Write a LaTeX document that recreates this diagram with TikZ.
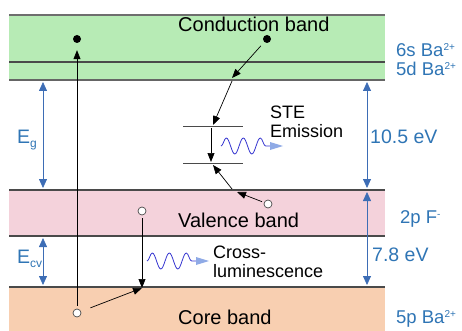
\documentclass[tikz,border=0pt]{standalone}
\usepackage{fontspec}
\setmainfont{Liberation Sans}
\usetikzlibrary{arrows.meta,decorations.pathmorphing,positioning}
\definecolor{bfGreen}{HTML}{B7EBB5}
\definecolor{bfPink}{HTML}{F4D2DB}
\definecolor{bfPeach}{HTML}{F8CFB1}
\definecolor{bfEdge}{HTML}{4A4A4A}
\definecolor{bfBlue}{HTML}{3D6DB5}
\definecolor{bfText}{HTML}{2F75B5}
\definecolor{bfWave}{HTML}{3535D0}
\definecolor{bfTip}{HTML}{8FAAE6}
\newcommand{\bfsup}[1]{\raisebox{6pt}{\fontsize{10}{10}\selectfont #1}}
\newcommand{\bfsub}[1]{\raisebox{-4pt}{\fontsize{12}{12}\selectfont #1}}
\tikzset{
  bf edge/.style={draw=bfEdge, line width=1.1pt},
  bf gap/.style={draw=bfBlue, line width=0.8pt, {Triangle[length=9pt,width=8pt]}-{Triangle[length=9pt,width=8pt]}},
  bf hop/.style={draw=black, line width=0.7pt, -{Triangle[length=9pt,width=7pt]}},
  bf level/.style={draw=bfEdge, line width=0.8pt},
  bf electron/.style={circle, fill=black, minimum size=8pt, inner sep=0pt},
  bf hole/.style={circle, draw=bfEdge, fill=white, line width=0.7pt, minimum size=8pt, inner sep=0pt},
  bf label/.style={font=\fontsize{20}{22}\selectfont, text=black, anchor=base west, inner sep=0pt},
  bf small label/.style={font=\fontsize{18}{19.5}\selectfont, text=black, align=left, anchor=west, inner sep=0pt},
  bf side label/.style={font=\fontsize{19.5}{22}\selectfont, text=bfText, anchor=base west, inner sep=0pt},
  bf orbital/.style={bf side label, font=\fontsize{18.5}{20}\selectfont},
  bf wave/.style={draw=bfWave, line width=0.8pt, decorate, decoration={snake, amplitude=8pt, segment length=17pt}},
}

\begin{document}
\begin{tikzpicture}[x=1pt, y=-1pt]
  \useasboundingbox (0,0) rectangle (462,331);
  % Bands
  \fill[bfGreen] (9,15) rectangle (385,80);
  \fill[bfPink] (9,190) rectangle (385,236);
  \fill[bfPeach] (9,287) rectangle (385,331);
  \draw[bf edge, draw=bfEdge!80] (9,15) -- (385,15);
  \draw[bf edge] (9,62) -- (385,62);
  \draw[bf edge, line width=2pt, draw=bfEdge!85] (9,80) -- (385,80);
  \draw[bf edge] (9,190) -- (385,190);
  \draw[bf edge] (9,236) -- (385,236);
  \draw[bf edge] (9,287) -- (385,287);
  % Band names
  \node[bf label] (cond) at (178,32) {Conduction band};
  \node[bf label] (val) at (178,227) {Valence band};
  \node[bf label] (core) at (178,324) {Core band};
  % Orbital names
  \node[bf orbital] (six s) at (396,57) {6s Ba\bfsup{2+}};
  \node[bf orbital] (five d) at (396,76) {5d Ba\bfsup{2+}};
  \node[bf orbital] (two p) at (400,223) {2p F\bfsup{-}};
  \node[bf orbital] (five p) at (396,323) {5p Ba\bfsup{2+}};
  % Gap arrows
  \coordinate (eg top) at (43,82);
  \coordinate (eg bot) at (43,188);
  \coordinate (ecv top) at (43,238);
  \coordinate (ecv bot) at (43,285);
  \coordinate (big top) at (367,82);
  \coordinate (big bot) at (367,188);
  \coordinate (small top) at (367,192);
  \coordinate (small bot) at (367,285);
  \draw[bf gap] (eg top) -- (eg bot);
  \draw[bf gap] (ecv top) -- (ecv bot);
  \draw[bf gap] (big top) -- (big bot);
  \draw[bf gap] (small top) -- (small bot);
  \node[bf side label] (eg) at (17,143) {E\bfsub{g}};
  \node[bf side label] (ecv) at (17,263) {E\bfsub{cv}};
  \node[bf side label] (big gap) at (370,143) {10.5 eV};
  \node[bf side label] (small gap) at (372,261) {7.8 eV};
  % Carriers
  \node[bf electron] (e one) at (77,39) {};
  \node[bf electron] (e two) at (267,39) {};
  \node[bf hole] (h core) at (77,313) {};
  \node[bf hole] (h val) at (142,211) {};
  \node[bf hole] (h ste) at (268,204) {};
  % STE levels
  \coordinate (ste hi l) at (183,126);
  \coordinate (ste hi r) at (243,126);
  \coordinate (ste lo l) at (183,163);
  \coordinate (ste lo r) at (243,163);
  \draw[bf level] (ste hi l) -- (ste hi r);
  \draw[bf level] (ste lo l) -- (ste lo r);
  \coordinate (ste hi) at (211,128);
  \coordinate (ste lo) at (211,162);
  \draw[bf hop] (ste hi) -- (ste lo);
  % Excitation and relaxation
  \draw[bf hop, shorten <=3pt, shorten >=7pt] (h core) -- (e one);
  \coordinate (cb hit) at (232,78);
  \coordinate (cb out) at (232,81);
  \coordinate (ste hi tip) at (213,125);
  \draw[bf hop, shorten <=5pt] (e two) -- (cb hit);
  \draw[bf hop] (cb out) -- (ste hi tip);
  \coordinate (vb hit) at (237,192);
  \coordinate (vb out) at (232,189);
  \coordinate (ste lo tip) at (213,165);
  \draw[bf hop, shorten <=2pt] (h ste) -- (vb hit);
  \draw[bf hop] (vb out) -- (ste lo tip);
  \coordinate (core hit) at (142,288);
  \draw[bf hop, shorten <=3pt] (h val) -- (core hit);
  \draw[bf hop, shorten <=10pt] (h core) -- (core hit);
  % Photons
  \coordinate (ste w in) at (221,146);
  \coordinate (ste w out) at (270,146);
  \draw[bf wave] (ste w in) -- (ste w out);
  \fill[bfTip] (270,142) -- (283,146) -- (270,150) -- cycle;
  \coordinate (cl w in) at (147,261);
  \coordinate (cl w out) at (196,261);
  \draw[bf wave] (cl w in) -- (cl w out);
  \fill[bfTip] (196,257) -- (209,261) -- (196,265) -- cycle;
  \node[bf small label] (ste) at (270,122) {STE\\Emission};
  \node[bf small label] (cross) at (213,262) {Cross-\\luminescence};
\end{tikzpicture}
\end{document}
